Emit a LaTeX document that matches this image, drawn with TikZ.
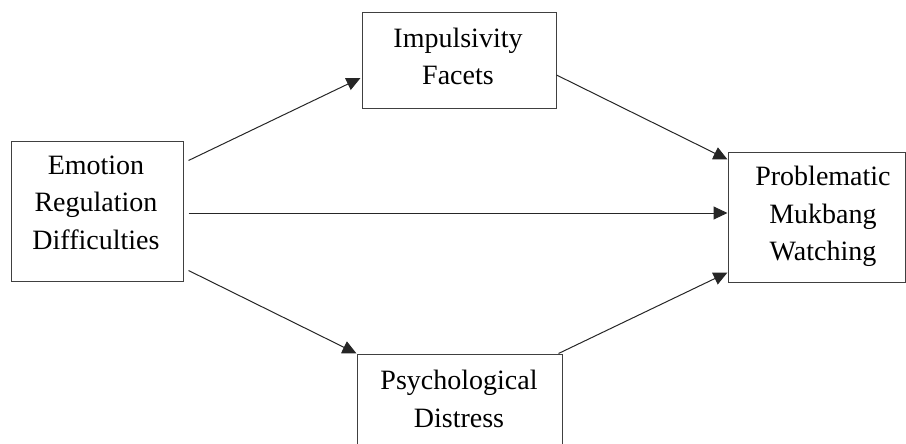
\documentclass[tikz,border=0pt]{standalone}
\usepackage{fontspec}
\setmainfont{Liberation Serif}
\usetikzlibrary{arrows.meta}
\begin{document}
\begin{tikzpicture}[x=1pt,y=-1pt,
  boxstyle/.style={draw=black!75,line width=1pt,inner sep=0pt},
  txtstyle/.style={align=center,inner sep=0pt,font=\fontsize{28}{37.5}\selectfont},
  conn/.style={draw=black!85,line width=1pt,-{Triangle[length=14pt,width=13pt]}}]
\clip (0,0) rectangle (906,444);
\useasboundingbox (0,0) rectangle (906,444);
% boxes
\node[boxstyle,minimum width=172pt,minimum height=140pt] (L) at (97,211) {};
\node[boxstyle,minimum width=194pt,minimum height=96pt] (T) at (459,61) {};
\node[boxstyle,minimum width=177pt,minimum height=130pt] (R) at (816.5,217) {};
\node[boxstyle,minimum width=205pt,minimum height=110pt] (B) at (459.5,409) {};
% texts
\node[txtstyle] (Lt) at (96,202.5) {Emotion\\Regulation\\Difficulties};
\node[txtstyle] (Tt) at (458,56.5) {Impulsivity\\Facets};
\node[txtstyle] (Rt) at (823,216.5) {Problematic\\Mukbang\\Watching};
\node[txtstyle] (Bt) at (459,399) {Psychological\\Distress};
% connectors
\draw[conn] ([xshift=5pt,yshift=-20pt]L.north east) -- ([xshift=-1pt,yshift=-17pt]T.west);
\draw[conn] ([xshift=5pt,yshift=-2pt]L.east) -- ([yshift=4pt]R.west);
\draw[conn] ([xshift=5pt,yshift=11pt]L.south east) -- (B.north west);
\draw[conn] ([yshift=-14pt]T.east) -- ([yshift=-8pt]R.north west);
\draw[conn] ([xshift=-4pt]B.north east) -- ([yshift=10pt]R.south west);
\end{tikzpicture}
\end{document}
